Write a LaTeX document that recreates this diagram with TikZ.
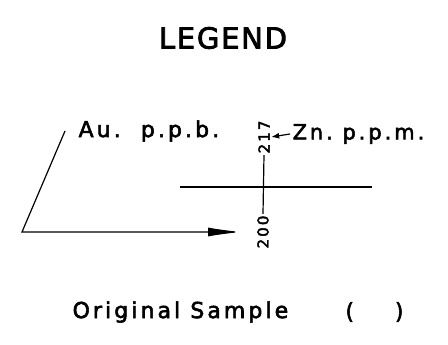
\documentclass[tikz,border=0pt]{standalone}
\usepackage{fontspec}
\setmainfont{DejaVu Sans}[LetterSpace=14,FakeBold=2.5]
\newfontfamily\titlefont{DejaVu Sans}[LetterSpace=6,FakeBold=2.8]
\usetikzlibrary{positioning,arrows.meta}

\begin{document}
\begin{tikzpicture}[x=1pt,y=-1pt,line width=1.2pt,
  tag/.style={font=\fontsize{22}{22}\selectfont, inner sep=2pt},
  value/.style={font=\fontsize{15}{15}\selectfont, rotate=90, inner sep=1pt}]
\useasboundingbox (0,0) rectangle (448,345);

\node (legend) at (223,38) {\titlefont\fontsize{29}{29}\selectfont LEGEND};

\node (au) [tag, anchor=west] at (76,131) {Au.\ \ p.p.b.};
\node (zn) [tag, anchor=west, font=\fontsize{21}{21}\selectfont] at (290,134) {Zn.\ p.p.m.};

% the cross with its two values
\node (top) [value] at (264,137) {217};
\node (bot) [value] at (263,232) {200};
\coordinate (left) at (180,187);
\coordinate (right) at (372,187);
\draw (left) -- (right);
\draw (top.west) -- (bot.east);
\draw[-{Latex[length=8pt,width=6pt]}] (zn.west) -- (top.south);

% angle to the sample point
\coordinate (ltop) at (65,131);
\coordinate (lcorner) at (22,232);
\coordinate (ltip) at (242,232);
\draw[-{Latex[length=34pt,width=9pt]}] (ltop) -- (lcorner) -- (ltip);

\node (sample) [tag, anchor=west] at (70,312) {Original Sample};
\node (paren) [tag, right=52pt of sample] {(\hspace{41pt})};

\end{tikzpicture}
\end{document}
